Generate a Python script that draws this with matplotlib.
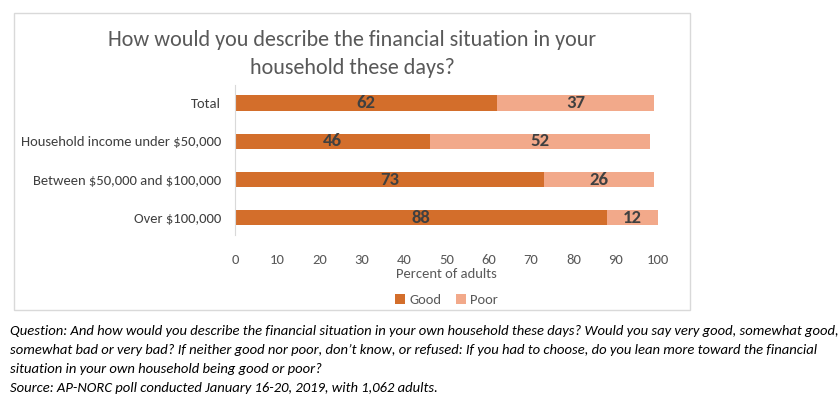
import matplotlib.pyplot as plt
from matplotlib.patches import Rectangle

# data
categories = ["Total", "Household income under \\$50,000",
              "Between \\$50,000 and \\$100,000", "Over \\$100,000"]
good = [62, 46, 73, 88]
poor = [37, 52, 26, 12]
xticks = [0, 10, 20, 30, 40, 50, 60, 70, 80, 90, 100]

GOOD_COLOR = "#D36E2B"
POOR_COLOR = "#F2A98A"
TEXT_DARK = "#404040"
TEXT_GRAY = "#595959"

plt.rcParams['font.family'] = ['Carlito', 'DejaVu Sans']

fig = plt.figure(figsize=(8.39, 3.99), dpi=100)
W, H = 839, 399

# chart border
fig.patches.append(Rectangle((14 / W, 1 - 310 / H), (690 - 14) / W, (310 - 13) / H,
                             transform=fig.transFigure, fill=False,
                             edgecolor="#D9D9D9", linewidth=1.0))

ax = fig.add_axes([235 / W, 1 - 235 / H, (658 - 235) / W, 150 / H])
ypos = list(range(len(categories)))
ax.barh(ypos, good, height=0.4, color=GOOD_COLOR, label="Good")
ax.barh(ypos, poor, left=good, height=0.4, color=POOR_COLOR, label="Poor")

for y, g, p in zip(ypos, good, poor):
    ax.text(g / 2, y, str(g), ha="center", va="center", fontsize=13.5,
            fontweight="bold", color=TEXT_DARK)
    ax.text(g + p / 2, y, str(p), ha="center", va="center", fontsize=13.5,
            fontweight="bold", color=TEXT_DARK)

ax.set_xlim(0, 100)
ax.set_ylim(3.45, -0.47)
ax.set_yticks(ypos)
ax.set_yticklabels(categories, fontsize=10.5, color=TEXT_DARK)
ax.set_xticks(xticks)
ax.set_xticklabels([str(t) for t in xticks], fontsize=10.5, color=TEXT_GRAY)
ax.tick_params(length=0, pad=10)
ax.tick_params(axis="x", pad=14)
for s in ["top", "right", "bottom"]:
    ax.spines[s].set_visible(False)
ax.spines["left"].set_color("#D9D9D9")
ax.set_xlabel("Percent of adults", fontsize=10.5, color=TEXT_GRAY, labelpad=1)

fig.text(352 / W, 1 - 40 / H, "How would you describe the financial situation in your",
         ha="center", va="center", fontsize=15.9, color=TEXT_GRAY)
fig.text(352 / W, 1 - 68 / H, "household these days?",
         ha="center", va="center", fontsize=15.9, color=TEXT_GRAY)

ax.legend(loc="center", bbox_to_anchor=(0.5, 1 - (300 - 85) / 150),
          ncol=2, frameon=False, fontsize=10.5, handlelength=0.7, handleheight=0.7,
          columnspacing=1.0, handletextpad=0.3, labelcolor=TEXT_GRAY)

caption = [
    "Question: And how would you describe the financial situation in your own household these days? Would you say very good, somewhat good,",
    "somewhat bad or very bad? If neither good nor poor, don\u2019t know, or refused: If you had to choose, do you lean more toward the financial",
    "situation in your own household being good or poor?",
    "Source: AP-NORC poll conducted January 16-20, 2019, with 1,062 adults.",
]
for i, line in enumerate(caption):
    fig.text(10 / W, 1 - (331 + 19 * i) / H, line, ha="left", va="center",
             fontsize=10.5, style="italic", color="black")

fig.savefig("out.png", dpi=100)
